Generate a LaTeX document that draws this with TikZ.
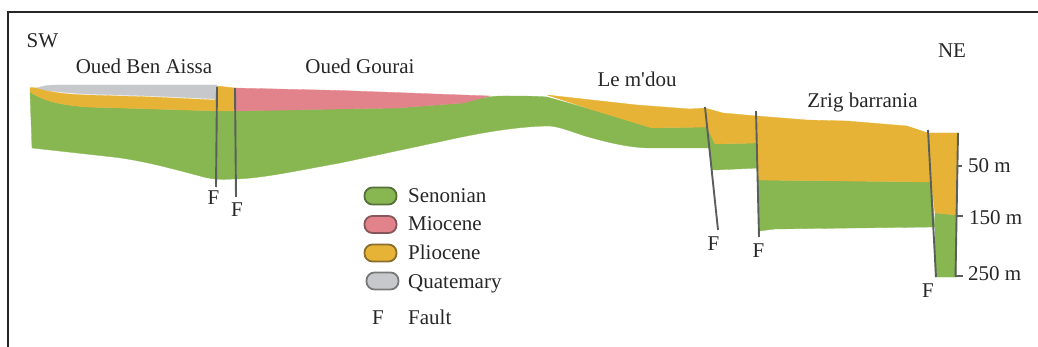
\documentclass[tikz,border=0pt]{standalone}
\usepackage{fontspec}
\setmainfont{Liberation Serif}[Ligatures=TeXOff]
\definecolor{senon}{HTML}{88B651}
\definecolor{mioc}{HTML}{E2838C}
\definecolor{plio}{HTML}{E7B336}
\definecolor{quat}{HTML}{C6C8CB}
\definecolor{faultc}{HTML}{5A5F5C}
\tikzset{
  unit/.style={fill=#1,draw=#1,line width=0.3pt,line join=round},
  lbl/.style={font=\fontsize{21}{24}\selectfont,text=black!85,inner sep=0pt,anchor=base},
  keytext/.style={lbl,anchor=base west},
  fault/.style={draw=faultc,line width=1.9pt},
  swatch/.style={rounded corners=8pt,line width=1.8pt,fill=#1,draw=#1!60!black!85!gray,minimum width=32pt,minimum height=17pt,inner sep=0pt},
  tick/.style={draw=faultc,line width=1.6pt},
}
\begin{document}
\begin{tikzpicture}[x=1pt,y=-1pt]
\useasboundingbox (0,0) rectangle (1038,347);
% frame, closed only along the top and the left
\draw[line width=2pt,black!85] (8,347) -- (8,12) -- (1038,12);

% Senonian bedrock, western section
\fill[unit=senon] (30,92) .. controls (38,97) and (45,100) .. (53,102)
  .. controls (65,105) and (75,106) .. (87,107)
  -- (153,109) -- (217,111) -- (340,109) -- (397,108) -- (463,103)
  .. controls (478,98) and (492,96) .. (503,96)
  .. controls (520,96) and (535,96) .. (547,97)
  -- (593,110) -- (652,128) -- (707,127) -- (709.5,148) -- (690,148) -- (653,148)
  .. controls (630,148) and (610,143) .. (585,136)
  .. controls (570,131) and (560,127) .. (550,126)
  .. controls (530,126) and (500,129) .. (457,138)
  -- (340,163) .. controls (300,170) and (260,179) .. (233,179)
  .. controls (220,180) and (210,179) .. (200,176)
  .. controls (170,168) and (140,160) .. (113,157)
  -- (32,148) -- cycle;
% Senonian blocks between the faults
\fill[unit=senon] (708,129) -- (715,144) -- (757,143) -- (759,168) -- (715,170) -- (711.5,170) -- cycle;
\fill[unit=senon] (758,180) -- (931,182) -- (935,227) -- (775,229) -- (759,231) -- cycle;
\fill[unit=senon] (935,213) -- (957,215) -- (956,277) -- (935,277) -- cycle;

% Pliocene
\fill[unit=plio] (30,87.5) -- (38,88) .. controls (45,90) and (48,91) .. (53,92)
  .. controls (65,94) and (75,94.5) .. (87,95)
  -- (153,97) -- (215,100) -- (217,86) -- (235,88) -- (235,111) -- (217,111) -- (153,109) -- (87,107)
  .. controls (75,106) and (65,105) .. (53,102)
  .. controls (45,100) and (38,97) .. (30,92) -- cycle;
\fill[unit=plio] (547,95) -- (637,105) -- (690,109) -- (705,108) -- (723,113) -- (757,116)
  -- (807,120) -- (847,121) -- (907,126) -- (928,133) -- (958,133) -- (957,215)
  -- (935,213) -- (931,182) -- (758,180) -- (757,143) -- (715,144) -- (707,127)
  -- (652,128) -- (593,110) -- cycle;

% Miocene
\fill[unit=mioc] (235,88) -- (340,90.5) -- (490,96) -- (463,103) -- (397,108) -- (340,109)
  -- (235,111) -- cycle;

% Quaternary
\fill[unit=quat] (37,88) .. controls (42,86) and (48,85) .. (58,85) -- (217,85)
  -- (217,99) -- (153,96) -- (87,94) .. controls (70,93) and (58,92) .. (47,90.5) -- cycle;

% faults and depth axis
\coordinate (f1a) at (217,87);   \coordinate (f1b) at (216,187);
\coordinate (f2a) at (235,88);   \coordinate (f2b) at (236,197);
\coordinate (f3a) at (705,107);  \coordinate (f3b) at (718,230);
\coordinate (f4a) at (756,111);  \coordinate (f4b) at (759,237);
\coordinate (f5a) at (928,130);  \coordinate (f5b) at (936,277);
\coordinate (axa) at (958,133);  \coordinate (axb) at (955.5,277);
\draw[fault] (f1a) -- (f1b);
\draw[fault] (f2a) -- (f2b);
\draw[fault] (f3a) -- (f3b);
\draw[fault] (f4a) -- (f4b);
\draw[fault] (f5a) -- (f5b);
\draw[fault] (axa) -- (axb);
\coordinate (t1) at (958,166);   \coordinate (t1e) at (962,166);
\coordinate (t2) at (957,216);   \coordinate (t2e) at (963,216);
\coordinate (t3) at (956,276);   \coordinate (t3e) at (963,276);
\draw[tick] (t1) -- (t1e);
\draw[tick] (t2) -- (t2e);
\draw[tick] (t3) -- (t3e);

% place names and orientation
\node[lbl] (sw) at (42.5,47.5) {SW};
\node[lbl] (ne) at (952,57.5) {NE};
\node[lbl] (benaissa) at (144,73.5) {Oued Ben Aissa};
\node[lbl] (gourai) at (360,73.5) {Oued Gourai};
\node[lbl] (mdou) at (637,86.5) {Le m'dou};
\node[lbl] (zrig) at (862.5,107.5) {Zrig barrania};

% fault labels
\node[lbl] (lf1) at (213.5,204.5) {F};
\node[lbl] (lf2) at (237,217) {F};
\node[lbl] (lf3) at (713.5,251) {F};
\node[lbl] (lf4) at (758.5,258) {F};
\node[lbl] (lf5) at (928,297) {F};

% depth labels
\node[keytext] (d50) at (968,172.5) {50 m};
\node[keytext] (d150) at (969,225) {150 m};
\node[keytext] (d250) at (968,280.5) {250 m};

% legend
\node[swatch=senon] (k1) at (380.5,196) {};
\node[swatch=mioc] (k2) at (380.5,224.5) {};
\node[swatch=plio] (k3) at (380.5,253) {};
\node[swatch=quat] (k4) at (382.5,281) {};
\node[keytext] (t-sen) at (408,203) {Senonian};
\node[keytext] (t-mio) at (408,231) {Miocene};
\node[keytext] (t-pli) at (408,260) {Pliocene};
\node[keytext] (t-qua) at (408,288.5) {Quatemary};
\node[lbl] (kf) at (378,324) {F};
\node[keytext] (t-fau) at (408,324) {Fault};
\end{tikzpicture}
\end{document}
